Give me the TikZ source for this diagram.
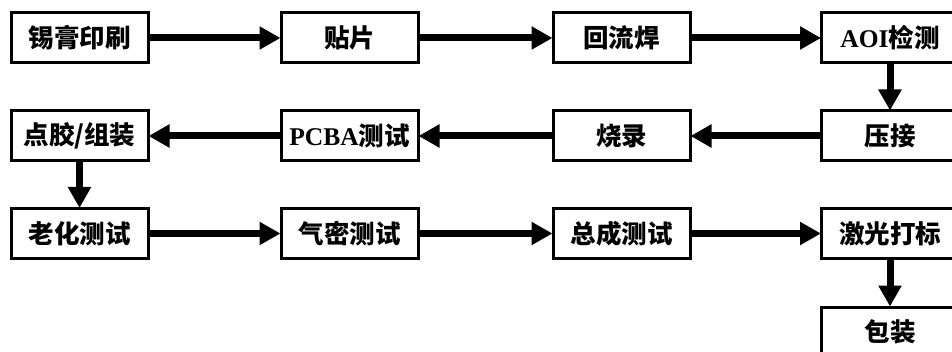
\documentclass[tikz,border=0pt]{standalone}
\usepackage{fontspec}
\newfontfamily\cjk{Noto Sans CJK SC}
\newfontfamily\lat{Liberation Serif}
\usetikzlibrary{arrows.meta}
\tikzset{
  stepbox/.style={draw=black, line width=3pt, fill=white, minimum width=137pt, minimum height=50pt, inner sep=0pt, font=\cjk\bfseries\fontsize{25.5pt}{27pt}\selectfont},
  flow/.style={line width=7pt, -{Triangle[length=21pt,width=22pt]}, shorten >=-1pt}
}
\begin{document}
\begin{tikzpicture}[x=1pt,y=1pt]
\useasboundingbox (0,0) rectangle (952,351);
\clip (0,0) rectangle (952,351);
% columns: 79.5, 349.5, 621.5, 890 ; rows (from bottom): 313, 215, 117.5, 19
\node[stepbox] (a1) at (79.5,313) {锡膏印刷};
\node[stepbox] (a2) at (349.5,313) {贴片};
\node[stepbox] (a3) at (621.5,313) {回流焊};
\node[stepbox] (a4) at (890,313) {{\lat\bfseries AOI}检测};
\node[stepbox] (b4) at (890,215) {压接};
\node[stepbox] (b3) at (621.5,215) {烧录};
\node[stepbox] (b2) at (349.5,215) {{\lat\bfseries PCBA}测试};
\node[stepbox] (b1) at (79.5,215) {点胶/组装};
\node[stepbox] (c1) at (79.5,117.5) {老化测试};
\node[stepbox] (c2) at (349.5,117.5) {气密测试};
\node[stepbox] (c3) at (621.5,117.5) {总成测试};
\node[stepbox] (c4) at (890,117.5) {激光打标};
\node[stepbox] (d4) at (890,19) {包装};
\draw[flow] (a1) -- (a2);
\draw[flow] (a2) -- (a3);
\draw[flow] (a3) -- (a4);
\draw[flow] (a4) -- (b4);
\draw[flow] (b4) -- (b3);
\draw[flow] (b3) -- (b2);
\draw[flow] (b2) -- (b1);
\draw[flow] (b1) -- (c1);
\draw[flow] (c1) -- (c2);
\draw[flow] (c2) -- (c3);
\draw[flow] (c3) -- (c4);
\draw[flow] (c4) -- (d4);
\end{tikzpicture}
\end{document}
